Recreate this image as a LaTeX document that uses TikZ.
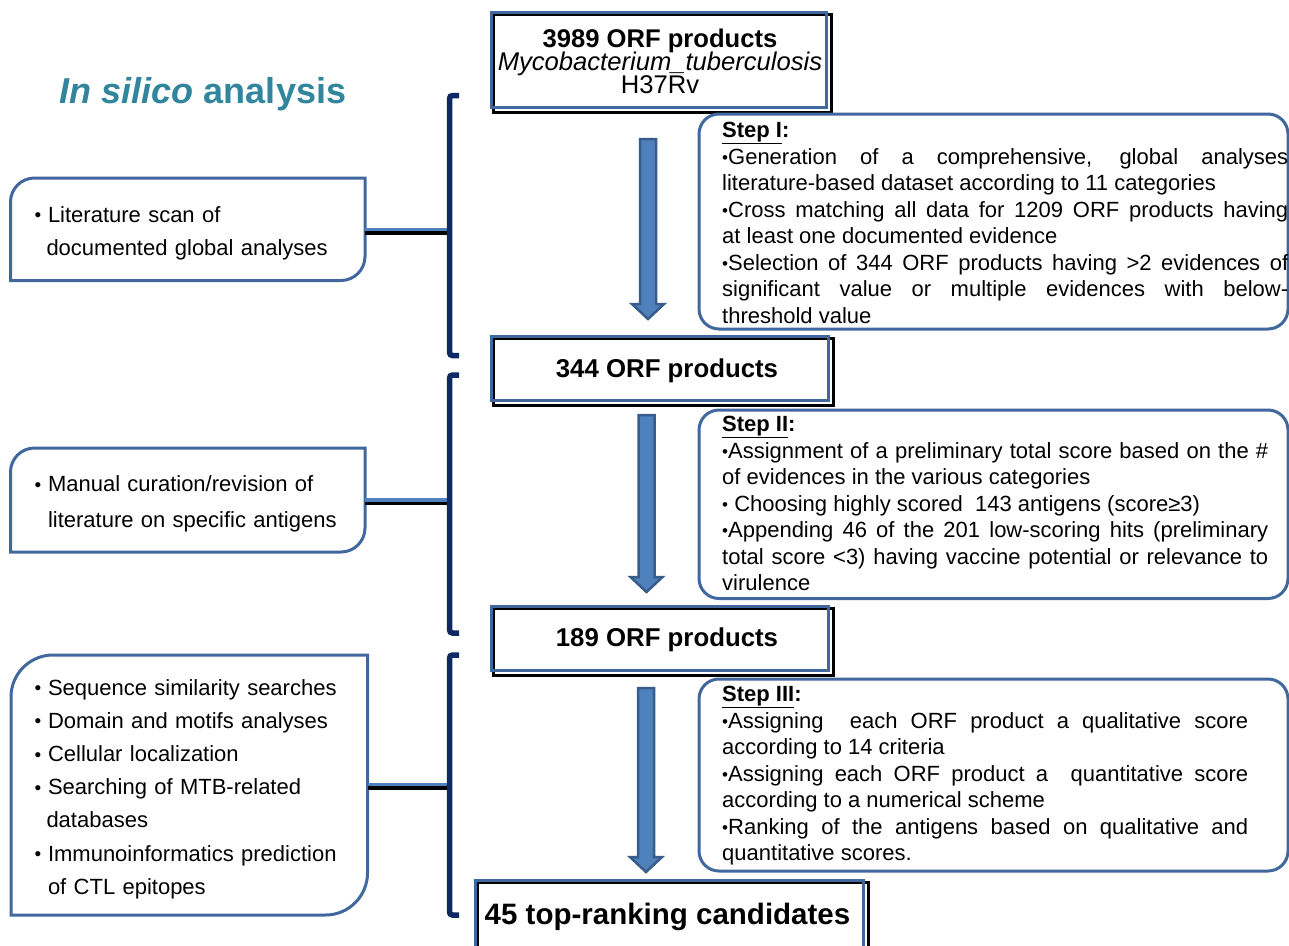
\documentclass[tikz,border=0pt]{standalone}
\usepackage{fontspec}
\setmainfont{Liberation Sans}
\usetikzlibrary{calc,backgrounds}
\definecolor{bordblue}{RGB}{65,104,158}
\definecolor{connblue}{RGB}{79,129,189}
\definecolor{arrowfill}{RGB}{79,129,189}
\definecolor{arrowline}{RGB}{56,93,138}
\definecolor{brnavy}{RGB}{14,40,98}
\definecolor{titleteal}{RGB}{49,133,156}
\newcommand\jl[2]{\makebox[#1][s]{#2}}
\newcommand\bul{\raisebox{1pt}{\fontsize{17}{17}\selectfont •}}
\newcommand\lbul{\makebox[13.5pt][l]{\raisebox{0.5pt}{\fontsize{19}{19}\selectfont •}}}
\newcommand\hd[1]{\textbf{\underline{#1}:}}
\newcommand\topfont{\fontsize{25.6}{23}\selectfont\lineskiplimit=-50pt\relax}
\newcommand\blockarrow[4]{%
  \filldraw[blockarr] (#1-8,#2) -- (#1+8,#2) -- (#1+8,#3) -- (#1+16,#3) -- (#1,#4) -- (#1-16,#3) -- (#1-8,#3) -- cycle;}
\begin{document}
\begin{tikzpicture}[x=1pt,y=-1pt,
  mainbox/.style={rectangle, draw=bordblue, line width=3pt, inner sep=0pt},
  shadowline/.style={draw=black, line width=3pt},
  maintext/.style={inner sep=0pt, anchor=base, font=\fontsize{25.8}{23}\selectfont\bfseries},
  stepbox/.style={rectangle, draw=bordblue, line width=3pt, rounded corners=20pt, inner sep=0pt},
  steptext/.style={inner sep=0pt, anchor=base west, align=left, font=\fontsize{22}{26.5}\selectfont},
  leftnode/.style={rectangle, inner sep=0pt, align=left},
  lbox/.style={draw=bordblue, line width=3pt},
  conn/.style={draw=connblue, line width=3.5pt},
  connshadow/.style={draw=black, line width=3.5pt},
  bracketline/.style={draw=brnavy, line width=5.5pt, rounded corners=3pt},
  blockarr/.style={fill=arrowfill, draw=arrowline, line width=2.5pt},
  titletext/.style={inner sep=0pt, anchor=base, text=titleteal, font=\fontsize{36}{40}\selectfont\bfseries}
]
\useasboundingbox (0,0) rectangle (1289,945);

% title
\node[titletext] (title) at (203,103) {\textit{In silico} analysis};

% main boxes
\node[mainbox, minimum width=335.5pt, minimum height=94.5pt] (b3989) at (658.75,59.75) {};
\node[inner sep=0pt, anchor=base, align=center, font=\topfont] (t3989) at (660,93)
  {\textbf{3989 ORF products}\\\textit{Mycobacterium\_tuberculosis}\\H37Rv};
\node[mainbox, minimum width=337pt, minimum height=64pt] (b344) at (659.5,368) {};
\node[maintext] (t344) at (667,377) {344 ORF products};
\node[mainbox, minimum width=337pt, minimum height=63.5pt] (b189) at (659.5,638.25) {};
\node[maintext] (t189) at (667,646.5) {189 ORF products};
\node[mainbox, minimum width=388.5pt, minimum height=75pt] (b45) at (669.25,917.5) {};
\node[maintext, font=\fontsize{29.5}{30}\selectfont\bfseries] (t45) at (667.5,924.5) {45 top-ranking candidates};

\begin{scope}[on background layer]
  \fill[white] (0,0) rectangle (1289,945);
  \foreach \n in {b3989,b344,b189,b45}
    \draw[shadowline] ($(\n.north west)+(3.5,3.5)$) rectangle ($(\n.south east)+(3.5,3.5)$);
\end{scope}

% step boxes
\node[stepbox, minimum width=589pt, minimum height=215pt] (sI) at (993.5,221.5) {};
\node[steptext] (tI) at (722,323) {\hd{Step I}\\
\jl{566pt}{\bul Generation of a comprehensive, global analyses}\\
literature-based dataset according to 11 categories\\
\jl{566pt}{\bul Cross matching all data for 1209 ORF products having}\\
at least one documented evidence\\
\jl{566pt}{\bul Selection of 344 ORF products having >2 evidences of}\\
\jl{566pt}{significant value or multiple evidences with below-}\\
threshold value};

\node[stepbox, minimum width=589pt, minimum height=188.5pt] (sII) at (993.5,504.25) {};
\node[steptext] (tII) at (722,590.5) {\hd{Step II}\\
\jl{546pt}{\bul Assignment of a preliminary total score based on the \#}\\
of evidences in the various categories\\
\bul\ Choosing highly scored\ \ 143 antigens (score≥3)\\
\jl{546pt}{\bul Appending 46 of the 201 low-scoring hits (preliminary}\\
\jl{546pt}{total score <3) having vaccine potential or relevance to}\\
virulence};

\node[stepbox, minimum width=589pt, minimum height=192pt] (sIII) at (993.5,775) {};
\node[steptext] (tIII) at (722,860.5) {\hd{Step III}\\
\jl{526pt}{\bul Assigning\ \ each ORF product a qualitative score}\\
according to 14 criteria\\
\jl{526pt}{\bul Assigning each ORF product a\ \ quantitative score}\\
according to a numerical scheme\\
\jl{526pt}{\bul Ranking of the antigens based on qualitative and}\\
quantitative scores.};

% arrows
\blockarrow{648}{139}{304}{319}
\blockarrow{646.5}{415}{577}{592}
\blockarrow{646}{688}{857}{872}

% left boxes
\node[leftnode, minimum width=354.5pt, minimum height=102.5pt, text width=306.5pt, font=\fontsize{22}{33}\selectfont] (boxA) at (187.75,233)
  {\lbul Literature scan of\\\hspace*{12pt}documented global analyses};
\draw[lbox] (10.5,280.5) -- (10.5,202) .. controls (10.5,188.75) and (21.25,178) .. (34.5,178) -- (365,178) -- (365,256.5) .. controls (365,269.75) and (354.25,280.5) .. (341,280.5) -- cycle;

\node[leftnode, minimum width=354.5pt, minimum height=104pt, text width=306.5pt, font=\fontsize{22}{36}\selectfont] (boxB) at (187.75,504)
  {\lbul Manual curation/revision of\\\hspace*{13.5pt}literature on specific antigens};
\draw[lbox] (10.5,552) -- (10.5,472) .. controls (10.5,458.75) and (21.25,448) .. (34.5,448) -- (365,448) -- (365,528) .. controls (365,541.25) and (354.25,552) .. (341,552) -- cycle;

\node[leftnode, minimum width=356.5pt, minimum height=260pt, text width=309.5pt, font=\fontsize{22}{33.2}\selectfont] (boxC) at (189.25,789)
  {\lbul Sequence similarity searches\\
   \lbul Domain and motifs analyses\\
   \lbul Cellular localization\\
   \lbul Searching of MTB-related\\
   \hspace*{12pt}databases\\
   \lbul Immunoinformatics prediction\\
   \hspace*{13.5pt}of CTL epitopes};
\draw[lbox] (11,915) -- (11,697) .. controls (11,673.8) and (29.8,655) .. (53,655) -- (367.5,655) -- (367.5,873) .. controls (367.5,896.2) and (348.7,915) .. (325.5,915) -- cycle;

% connectors
\coordinate (jA) at (449.5,229.25);
\coordinate (jB) at (449.5,500);
\coordinate (jC) at (449.5,784.5);
\coordinate (eA) at (365,229.25);
\coordinate (eB) at (365,500);
\coordinate (eC) at (367.5,784.5);
\foreach \b/\j in {eA/jA,eB/jB,eC/jC}{
  \draw[connshadow] ($(\b)+(0,3.5)$) -- ($(\j)+(0,3.5)$);
  \draw[conn] (\b) -- (\j);
}

% brackets
\draw[bracketline] (459,95.5) -- (449.5,95.5) -- (449.5,355.5) -- (459,355.5);
\draw[bracketline] (459,375) -- (449.5,375) -- (449.5,633) -- (459,633);
\draw[bracketline] (459,655) -- (449.5,655) -- (449.5,915) -- (459,915);
\end{tikzpicture}
\end{document}
